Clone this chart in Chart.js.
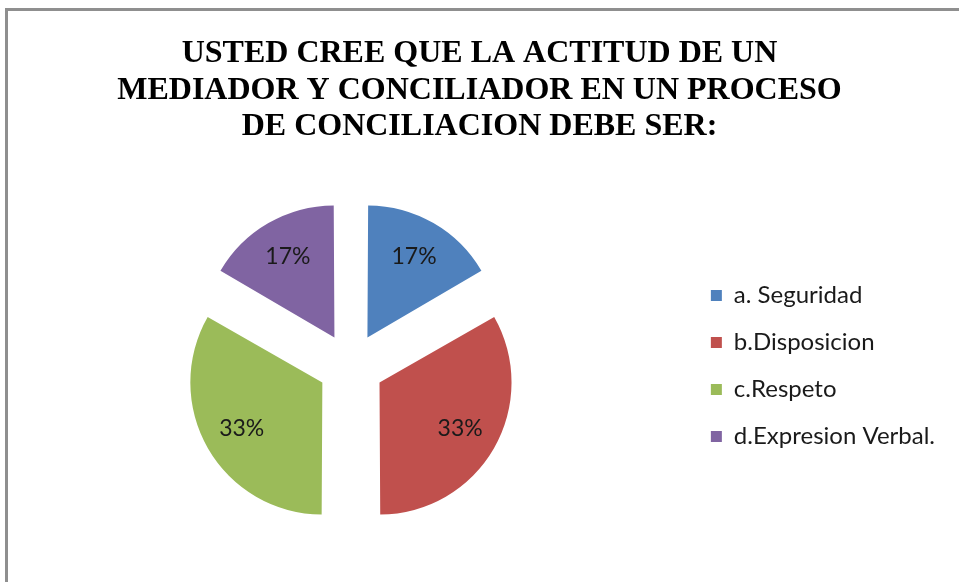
<!DOCTYPE html>
<html>
<head>
<meta charset="utf-8">
<script src="https://cdn.jsdelivr.net/npm/chart.js@4/dist/chart.umd.min.js"></script>
<style>
  html, body { margin: 0; padding: 0; background: #fff; overflow: hidden; }
  #frame { position: absolute; left: 5px; top: 8px; width: 1000px; height: 600px;
           border-left: 3px solid #8f8f8f; border-top: 3px solid #8f8f8f; }
  #wrap { position: absolute; left: 0; top: 0; width: 960px; height: 571px; }
</style>
</head>
<body>
<div id="frame"><div id="wrap"><canvas id="pieChart"></canvas></div></div>
<script>
const chartTitle = ['USTED CREE QUE LA ACTITUD DE UN', 'MEDIADOR Y CONCILIADOR EN UN PROCESO', 'DE CONCILIACION DEBE SER:'];
const categories = ['a. Seguridad', 'b.Disposicion', 'c.Respeto', 'd.Expresion Verbal.'];
const answers = [1, 2, 2, 1];
const sliceColors = ['#4F81BD', '#C0504D', '#9BBB59', '#8064A2'];

// percentage labels inside each slice
const sliceLabels = {
  id: 'sliceLabels',
  afterDatasetsDraw(chart) {
    const ctx = chart.ctx;
    const meta = chart.getDatasetMeta(0);
    const data = chart.data.datasets[0].data;
    const total = data.reduce((a, b) => a + b, 0);
    ctx.save();
    ctx.font = '23px Lato';
    ctx.fillStyle = '#1a1a1a';
    ctx.textAlign = 'center';
    ctx.textBaseline = 'middle';
    meta.data.forEach((arc, i) => {
      const p = arc.getProps(['x', 'y', 'startAngle', 'endAngle', 'outerRadius']);
      const mid = (p.startAngle + p.endAngle) / 2;
      const shift = arc.options.offset / 4;
      const r = p.outerRadius * 0.73 + shift;
      ctx.fillText(Math.round(data[i] / total * 100) + '%', p.x + Math.cos(mid) * r, p.y + Math.sin(mid) * r);
    });
    ctx.restore();
  }
};

new Chart(document.getElementById('pieChart'), {
  type: 'pie',
  data: {
    labels: categories,
    datasets: [{
      data: answers,
      backgroundColor: sliceColors,
      borderWidth: 0,
      offset: 132,
      hoverOffset: 0,
      radius: 127.6
    }]
  },
  options: {
    responsive: true,
    maintainAspectRatio: false,
    animation: false,
    events: [],
    layout: { padding: { left: 6, right: 23, top: 0, bottom: 66 } },
    plugins: {
      title: {
        display: true,
        text: chartTitle,
        color: '#000',
        font: { family: '"Liberation Serif"', size: 32, weight: 'bold', lineHeight: '36.5px' },
        padding: { top: 24.5, bottom: 71 }
      },
      legend: {
        position: 'right',
        fullSize: false,
        labels: {
          boxWidth: 11,
          boxHeight: 11,
          padding: 23,
          color: '#1a1a1a',
          font: { family: 'Lato', size: 24 }
        }
      },
      tooltip: { enabled: false }
    }
  },
  plugins: [sliceLabels]
});
</script>
</body>
</html>
